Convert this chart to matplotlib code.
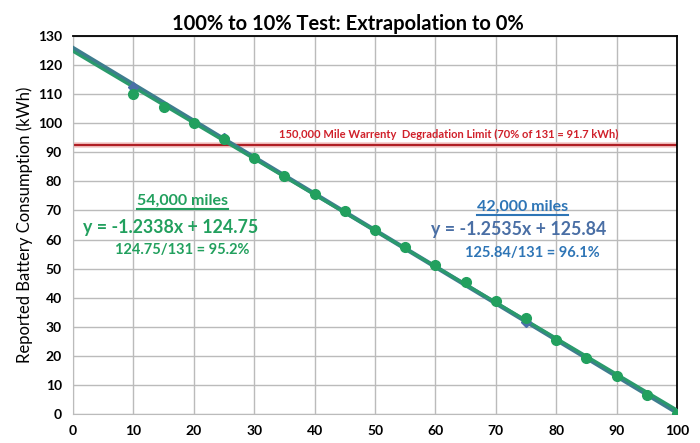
import numpy as np
from matplotlib import pyplot as plt
from matplotlib.lines import Line2D

# 54,000 miles test (green)
soc_green = [10, 15, 20, 25, 30, 35, 40, 45, 50, 55, 60, 65, 70, 75, 80, 85, 90, 95, 100]
kwh_green = [110.0, 105.5, 100.0, 94.5, 88.0, 82.0, 75.5, 69.8, 63.3, 57.3,
             51.2, 45.3, 39.0, 33.0, 25.3, 19.3, 13.0, 6.5, 0.0]
slope_green, icpt_green = -1.2338, 124.75

# 42,000 miles test (blue)
soc_blue = [10, 25, 50, 75, 100]
kwh_blue = [112.5, 95.0, 63.3, 31.5, 0.0]
slope_blue, icpt_blue = -1.2535, 125.84

limit_kwh = 92.5
x_ticks = list(range(0, 101, 10))
y_ticks = list(range(0, 131, 10))

plt.rcParams['font.family'] = ['Lato', 'DejaVu Sans']

fig = plt.figure(figsize=(7, 4.43), dpi=100)
ax = fig.add_axes([0.1043, 0.0655, 0.8629, 0.8532])

xs = np.array([0, 100])
ax.plot(xs, icpt_blue + slope_blue * xs, color='#3E7D8E', lw=3.2, zorder=3)
ax.plot(xs, icpt_green + slope_green * xs, color='#2A9A6C', lw=2.2, zorder=4)
ax.plot(soc_blue, kwh_blue, 'D', color='#4A70A8', ms=5, zorder=5)
ax.plot(soc_green, kwh_green, 'o', color='#22A05E', ms=7, zorder=6)

ax.axhline(limit_kwh, color='#F4C8C8', lw=4, zorder=2)
ax.axhline(limit_kwh, color='#B01E24', lw=1.6, zorder=2)
ax.text(62.2, 96, "150,000 Mile Warrenty  Degradation Limit (70% of 131 = 91.7 kWh)",
        color='#D0202A', fontsize=8, fontweight='bold', ha='center', va='center')

t_g = ax.text(18.2, 73.4, "54,000 miles", color='#22A05E', fontsize=11.5, fontweight='bold',
              ha='center', va='center')
ax.text(16.2, 64.3, "y = -1.2338x + 124.75", color='#22A05E', fontsize=12.8, fontweight='bold',
        ha='center', va='center')
ax.text(18.1, 56.4, "124.75/131 = 95.2%", color='#22A05E', fontsize=10.5, fontweight='bold',
        ha='center', va='center')

t_b = ax.text(74.4, 71.2, "42,000 miles", color='#2E75B6', fontsize=11.5, fontweight='bold',
              ha='center', va='center')
ax.text(73.8, 63.6, "y = -1.2535x + 125.84", color='#4A6FA5', fontsize=12.8, fontweight='bold',
        ha='center', va='center')
ax.text(76.1, 55.4, "125.84/131 = 96.1%", color='#2E75B6', fontsize=10.5, fontweight='bold',
        ha='center', va='center')

ax.set_xlim(0, 100)
ax.set_ylim(0, 130)
ax.set_xticks(x_ticks)
ax.set_yticks(y_ticks)
ax.grid(True, color='#BBBBBB', lw=1)
ax.set_axisbelow(True)
ax.tick_params(length=0, labelsize=10, pad=8)
for lbl in ax.get_xticklabels() + ax.get_yticklabels():
    lbl.set_fontweight('bold')
for s in ['left', 'bottom']:
    ax.spines[s].set_color('#BBBBBB')
for s in ['top', 'right']:
    ax.spines[s].set_color('black')
    ax.spines[s].set_linewidth(1.3)
ax.set_ylabel("Reported Battery Consumption (kWh)", fontsize=12, labelpad=3)

fig.text(0.497, 0.945, "100% to 10% Test: Extrapolation to 0%", ha='center', va='center',
         fontsize=14.5, fontweight='bold')

# underline the mileage labels
fig.canvas.draw()
W, H = fig.bbox.width, fig.bbox.height
for t in (t_g, t_b):
    bb = t.get_window_extent()
    yy = (bb.y0 - 1) / H
    fig.add_artist(Line2D([bb.x0 / W, bb.x1 / W], [yy, yy], color=t.get_color(),
                          lw=1.5, zorder=10))

fig.savefig('out.png', dpi=100)
